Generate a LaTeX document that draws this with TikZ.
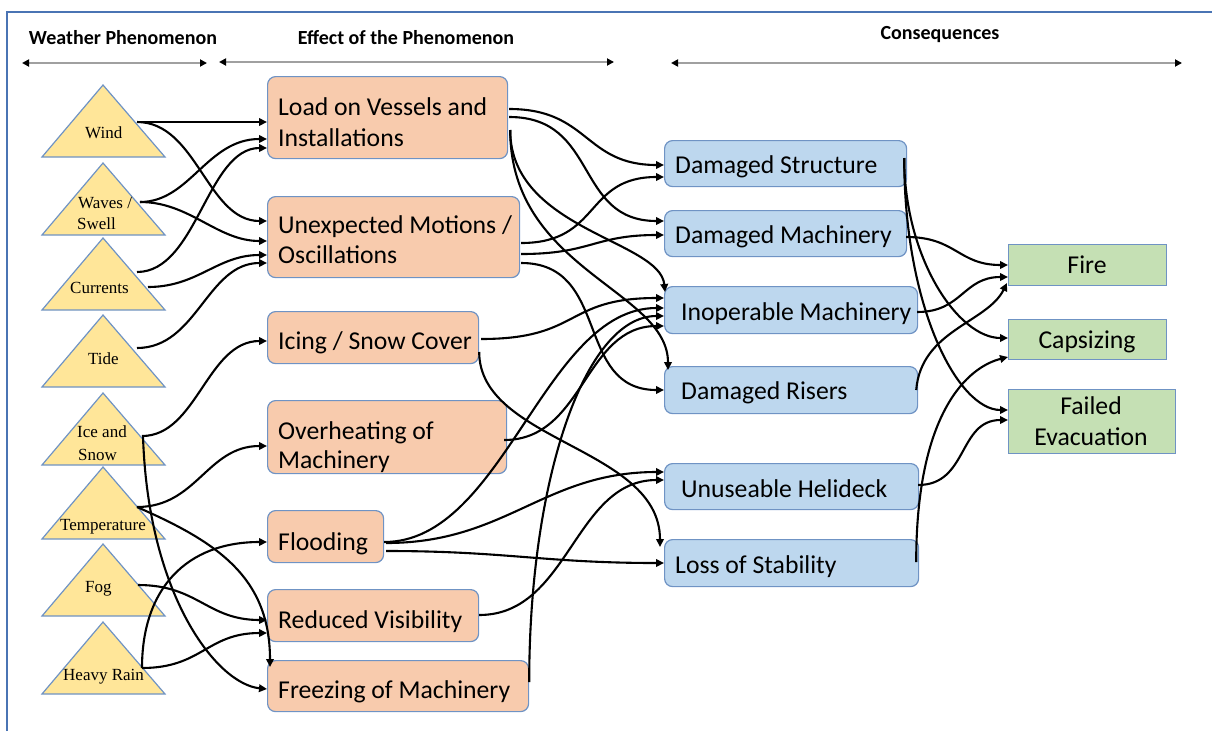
\documentclass[tikz,border=0pt]{standalone}
\usepackage{fontspec}
\setmainfont{Carlito}
\newfontfamily\serifTri{Liberation Serif}
\usetikzlibrary{arrows.meta}
\definecolor{oFill}{HTML}{F8CBAD}
\definecolor{bFill}{HTML}{BDD7EE}
\definecolor{gFill}{HTML}{C5E0B4}
\definecolor{yFill}{HTML}{FFE699}
\definecolor{bEdge}{HTML}{6F93C4}
\definecolor{frameC}{HTML}{4A74B4}
\definecolor{hdrLine}{HTML}{A0A0A0}
\begin{document}
\begin{tikzpicture}[x=1pt,y=-1pt,
  obox/.style={draw=bEdge, fill=oFill, line width=1.2pt, rounded corners=8pt, anchor=north west, inner sep=0pt},
  bbox/.style={obox, fill=bFill},
  gbox/.style={draw=bEdge, fill=gFill, line width=1.2pt, anchor=north west, inner sep=0pt},
  tri/.style={draw=bEdge, fill=yFill, line width=1.2pt, line join=miter},
  btxt/.style={anchor=base west, inner sep=0pt, font=\fontsize{25.7}{30}\selectfont},
  ctxt/.style={anchor=base, inner sep=0pt, font=\fontsize{25.7}{30}\selectfont},
  ttxt/.style={anchor=base west, inner sep=0pt, font=\serifTri\fontsize{17}{20}\selectfont},
  htxt/.style={inner sep=0pt, font=\bfseries\fontsize{20}{24}\selectfont},
  con/.style={line width=2.1pt, -{Triangle[length=8pt,width=7.5pt]}},
  hdr/.style={draw=hdrLine, line width=2pt, {Triangle[length=7pt,width=7pt,color=black]}-{Triangle[length=7pt,width=7pt,color=black]}}
]
\useasboundingbox (0,0) rectangle (1212,731);
\draw[frameC, line width=1.3pt] (7,731) -- (7,12) -- (1212,12);

% headers
\node[htxt] (h1) at (123,38) {Weather Phenomenon};
\node[htxt] (h2) at (406,38) {Effect of the Phenomenon};
\node[htxt] (h3) at (940,35) {Consequences};
\coordinate (h1a) at (22,63); \coordinate (h1b) at (207,63);
\coordinate (h2a) at (219,62); \coordinate (h2b) at (614,62);
\coordinate (h3a) at (671,63); \coordinate (h3b) at (1182,63);
\draw[hdr] (h1a) -- (h1b);
\draw[hdr] (h2a) -- (h2b);
\draw[hdr] (h3a) -- (h3b);

% triangles
\foreach \a in {85,163,238,315,393,467,544,622}
  \draw[tri] (42,\a+72) -- (103,\a) -- (165,\a+72) -- cycle;
\node[ttxt] (wind) at (85,138) {Wind};
\node[ttxt] (waves) at (78,208) {Waves /};
\node[ttxt] (swell) at (77,229) {Swell};
\node[ttxt] (currents) at (70,293) {Currents};
\node[ttxt] (tide) at (88,364) {Tide};
\node[ttxt] (ice) at (77,437) {Ice and};
\node[ttxt] (snow) at (78,460) {Snow};
\node[ttxt] (temp) at (60,530) {Temperature};
\node[ttxt] (fog) at (85,592) {Fog};
\node[ttxt] (rain) at (63,680) {Heavy Rain};

% effect boxes
\node[obox, minimum width=240pt, minimum height=82pt] (load) at (267,76) {};
\node[obox, minimum width=252pt, minimum height=81pt] (unexp) at (267,196) {};
\node[obox, minimum width=211pt, minimum height=52pt] (icing) at (267,311) {};
\node[obox, minimum width=239pt, minimum height=73pt] (over) at (267,400) {};
\node[obox, minimum width=116pt, minimum height=52pt] (flood) at (267,510) {};
\node[obox, minimum width=211pt, minimum height=52pt] (reduced) at (267,589) {};
\node[obox, minimum width=261pt, minimum height=51pt] (freeze) at (267,660) {};
\node[btxt] (loadT1) at (278,115) {Load on Vessels and};
\node[btxt] (loadT2) at (278,146) {Installations};
\node[btxt] (unexpT1) at (278,233) {Unexpected Motions /};
\node[btxt] (unexpT2) at (278,263) {Oscillations};
\node[btxt] (icingT) at (278,349) {Icing / Snow Cover};
\node[btxt] (overT1) at (278,439) {Overheating of};
\node[btxt] (overT2) at (278,468) {Machinery};
\node[btxt] (floodT) at (278,550) {Flooding};
\node[btxt] (reducedT) at (278,628) {Reduced Visibility};
\node[btxt] (freezeT) at (278,698) {Freezing of Machinery};

% consequence boxes
\node[bbox, minimum width=242pt, minimum height=46pt] (ds) at (664,140) {};
\node[bbox, minimum width=242pt, minimum height=46pt] (dm) at (664,210) {};
\node[bbox, minimum width=253pt, minimum height=47pt] (inop) at (664,286) {};
\node[bbox, minimum width=253pt, minimum height=47pt] (risers) at (664,366) {};
\node[bbox, minimum width=254pt, minimum height=46pt] (unuse) at (664,463) {};
\node[bbox, minimum width=254pt, minimum height=47pt] (loss) at (664,539) {};
\node[btxt] (dsT) at (675,173) {Damaged Structure};
\node[btxt] (dmT) at (675,243) {Damaged Machinery};
\node[btxt] (inopT) at (681,320) {Inoperable Machinery};
\node[btxt] (risersT) at (681,399) {Damaged Risers};
\node[btxt] (unuseT) at (681,497) {Unuseable Helideck};
\node[btxt] (lossT) at (675,573) {Loss of Stability};

% outcome boxes
\node[gbox, minimum width=158pt, minimum height=41pt] (fire) at (1008,244) {};
\node[gbox, minimum width=158pt, minimum height=40pt] (caps) at (1008,319) {};
\node[gbox, minimum width=167pt, minimum height=64pt] (failed) at (1008,389) {};
\node[ctxt] (fireT) at (1087,273) {Fire};
\node[ctxt] (capsT) at (1087,348) {Capsizing};
\node[ctxt] (failedT1) at (1091,414) {Failed};
\node[ctxt] (failedT2) at (1091,445) {Evacuation};

% weather -> effects
\draw[con] ([shift={(52,-16)}]wind.base west) -- ([shift={(0,46)}]load.north west);
\draw[con] ([shift={(52,-16)}]wind.base west) .. controls +(60,0) and +(-60,0) .. ([shift={(0,25)}]unexp.north west);
\draw[con] ([shift={(62,-6)}]waves.base west) .. controls +(50,0) and +(-60,0) .. ([shift={(0,63)}]load.north west);
\draw[con] ([shift={(62,-6)}]waves.base west) .. controls +(50,0) and +(-50,0) .. ([shift={(0,45)}]unexp.north west);
\draw[con] ([shift={(67,-21)}]currents.base west) .. controls +(60,0) and +(-60,0) .. ([shift={(0,72)}]load.north west);
\draw[con] ([shift={(78,-6)}]currents.base west) .. controls +(50,0) and +(-50,0) .. ([shift={(0,59)}]unexp.north west);
\draw[con] ([shift={(49,-16)}]tide.base west) .. controls +(60,0) and +(-60,0) .. ([shift={(0,67)}]unexp.north west);
\draw[con] ([shift={(65,-1)}]ice.base west) .. controls +(55,0) and +(-60,0) .. ([shift={(0,30)}]icing.north west);
\draw[con] ([shift={(66,-1)}]ice.base west) .. controls +(5,160) and +(-50,-5) .. ([shift={(0,29)}]freeze.north west);
\draw[con] ([shift={(77,-23)}]temp.base west) .. controls +(60,0) and +(-60,0) .. ([shift={(0,46)}]over.north west);
\draw[con] ([shift={(77,-23)}]temp.base west) .. controls +(80,35) and +(0,-90) .. ([shift={(3,7)}]freeze.north west);
\draw[con] ([shift={(53,-7)}]fog.base west) .. controls +(60,0) and +(-60,0) .. ([shift={(0,31)}]reduced.north west);
\draw[con] ([shift={(79,-12)}]rain.base west) .. controls +(0,-80) and +(-80,0) .. ([shift={(0,32)}]flood.north west);
\draw[con] ([shift={(79,-12)}]rain.base west) .. controls +(60,0) and +(-60,0) .. ([shift={(0,44)}]reduced.north west);

% effects -> consequences
\draw[con] ([shift={(1,33)}]load.north east) .. controls +(80,0) and +(-80,0) .. ([shift={(0,25)}]ds.north west);
\draw[con] ([shift={(1,41)}]load.north east) .. controls +(90,0) and +(-90,0) .. ([shift={(0,11)}]dm.north west);
\draw[con] ([shift={(2,54)}]load.north east) .. controls +(0,100) and +(-5,-52) .. ([shift={(1,6)}]inop.north west);
\draw[con] ([shift={(2,54)}]load.north east) .. controls +(0,140) and +(0,-80) .. ([shift={(4,4)}]risers.north west);
\draw[con] ([shift={(1,47)}]unexp.north east) .. controls +(80,0) and +(-80,0) .. ([shift={(0,37)}]ds.north west);
\draw[con] ([shift={(1,58)}]unexp.north east) .. controls +(70,0) and +(-70,0) .. ([shift={(0,25)}]dm.north west);
\draw[con] ([shift={(1,67)}]unexp.north east) .. controls +(90,0) and +(-90,0) .. ([shift={(0,24)}]risers.north west);
\draw[con] ([shift={(2,28)}]icing.north east) .. controls +(100,0) and +(-100,0) .. ([shift={(0,12)}]inop.north west);
\draw[con] ([shift={(0,41)}]icing.north east) .. controls +(0,90) and +(0,-100) .. ([shift={(-4,8)}]loss.north west);
\draw[con] ([shift={(-3,40)}]over.north east) .. controls +(80,0) and +(-80,0) .. ([shift={(0,40)}]inop.north west);
\draw[con] ([shift={(0,32)}]flood.north east) .. controls +(120,0) and +(-120,0) .. ([shift={(0,22)}]inop.north west);
\draw[con] ([shift={(0,22)}]freeze.north east) .. controls +(0,-200) and +(-80,0) .. ([shift={(0,30)}]inop.north west);
\draw[con] ([shift={(2,33)}]flood.north east) .. controls +(120,0) and +(-120,0) .. ([shift={(0,9)}]unuse.north west);
\draw[con] ([shift={(2,41)}]flood.north east) .. controls +(120,0) and +(-120,0) .. ([shift={(0,24)}]loss.north west);
\draw[con] ([shift={(0,26)}]reduced.north east) .. controls +(90,0) and +(-90,0) .. ([shift={(0,17)}]unuse.north west);

% consequences -> outcomes
\draw[con] ([shift={(-3,18)}]ds.north east) .. controls +(0,100) and +(-50,0) .. ([shift={(0,19)}]caps.north west);
\draw[con] ([shift={(-3,18)}]ds.north east) .. controls +(0,150) and +(-50,0) .. ([shift={(0,21)}]failed.north west);
\draw[con] ([shift={(-1,27)}]dm.north east) .. controls +(50,0) and +(-50,0) .. ([shift={(0,21)}]fire.north west);
\draw[con] ([shift={(-1,26)}]inop.north east) .. controls +(45,0) and +(-45,0) .. ([shift={(0,33)}]fire.north west);
\draw[con] ([shift={(-2,24)}]risers.north east) .. controls +(5,-60) and +(-20,40) .. ([shift={(-1,39)}]fire.north west);
\draw[con] ([shift={(-1,22)}]unuse.north east) .. controls +(50,0) and +(-50,0) .. ([shift={(0,31)}]failed.north west);
\draw[con] ([shift={(-3,23)}]loss.north east) .. controls +(0,-150) and +(-40,10) .. ([shift={(0,38)}]caps.north west);
\end{tikzpicture}
\end{document}
